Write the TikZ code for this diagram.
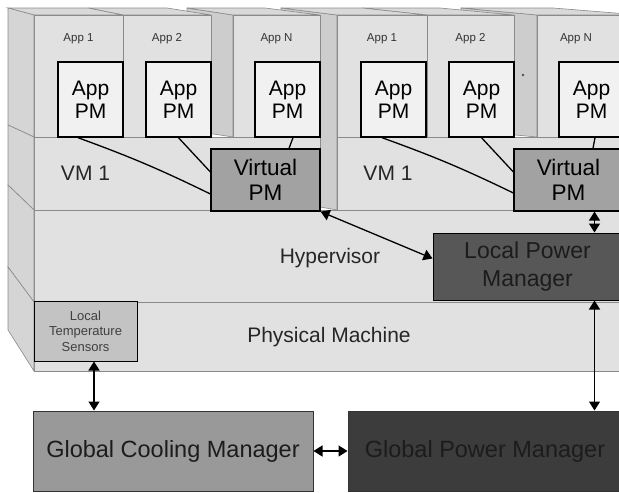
\documentclass[tikz,border=0pt]{standalone}
\usepackage{fontspec}
\setmainfont{Liberation Sans}
\usetikzlibrary{positioning}
\usetikzlibrary{arrows.meta}
\usepackage{xcolor}

\definecolor{facegray}{HTML}{E1E1E1}
\definecolor{sidegray}{HTML}{CDCDCD}
\definecolor{topgray}{HTML}{D9D9D9}
\definecolor{leftgray}{HTML}{D5D5D5}
\definecolor{edgegray}{HTML}{8A8A8A}
\definecolor{pmfill}{HTML}{F1F1F1}
\definecolor{vpmfill}{HTML}{A2A2A2}
\definecolor{lpmfill}{HTML}{575757}
\definecolor{sensorfill}{HTML}{C3C3C3}
\definecolor{gcmfill}{HTML}{999999}
\definecolor{gpmfill}{HTML}{3C3C3C}
\definecolor{darktext}{HTML}{1C1C1C}

\begin{document}
\begin{tikzpicture}[x=1pt,y=-1pt,
faceplate/.style={fill=facegray, draw=edgegray, line width=0.6pt},
sideplate/.style={fill=sidegray, draw=edgegray, line width=0.6pt},
topplate/.style={fill=topgray, draw=edgegray, line width=0.6pt},
leftplate/.style={fill=leftgray, draw=edgegray, line width=0.6pt},
applabel/.style={anchor=base, text=black!80, font=\fontsize{11.5}{13}\selectfont},
layerlabel/.style={anchor=base, text=black!85, font=\fontsize{21}{23}\selectfont},
apppm/.style={rectangle, draw=black, fill=pmfill, line width=1.4pt, minimum width=65pt, minimum height=75pt, inner sep=0pt, align=center, font=\fontsize{21}{23}\selectfont},
virtualpm/.style={rectangle, draw=black, fill=vpmfill, line width=1.2pt, minimum width=109pt, minimum height=62pt, inner sep=0pt, align=center, font=\fontsize{22.5}{25}\selectfont},
localpm/.style={rectangle, draw=black, fill=lpmfill, line width=1pt, minimum width=189pt, minimum height=67pt, inner sep=0pt, align=center, text=darktext, font=\fontsize{23}{28}\selectfont},
sensornode/.style={rectangle, draw=black, fill=sensorfill, line width=1pt, minimum width=103pt, minimum height=60pt, inner sep=0pt, align=center, text=black!75, font=\fontsize{13}{15.5}\selectfont},
coolingnode/.style={rectangle, draw=black!80, fill=gcmfill, line width=1pt, minimum width=280pt, minimum height=80pt, inner sep=0pt, text=darktext, font=\fontsize{23.5}{26}\selectfont},
powernode/.style={rectangle, draw=black!80, fill=gpmfill, line width=1pt, minimum width=274pt, minimum height=80pt, inner sep=0pt, text=darktext, font=\fontsize{23.5}{26}\selectfont},
link/.style={line width=1.3pt},
>={Triangle[length=9pt,width=11pt]}]
\clip (0,0) rectangle (619,493);

% right server
\draw[sideplate] (537,15) -- (461,8) -- (461,130) -- (537,137) -- cycle;
\draw[topplate] (537,15) -- (640,15) -- (553,8) -- (461,8) -- cycle;
\draw[faceplate] (537,15) rectangle (640,137);
\draw[topplate] (427,15) -- (514,15) -- (440,8) -- (362,8) -- cycle;
\draw[faceplate] (427,15) rectangle (514,137);
\draw[sideplate] (337,15) -- (281,8) -- (281,200) -- (337,210) -- cycle;
\draw[topplate] (337,15) -- (427,15) -- (362,8) -- (281,8) -- cycle;
\draw[faceplate] (337,15) rectangle (427,137);
\draw[faceplate] (337,137) rectangle (640,210);

% left server
\draw[sideplate] (233,15) -- (187,8) -- (187,130) -- (233,137) -- cycle;
\draw[topplate] (233,15) -- (320,15) -- (265,8) -- (187,8) -- cycle;
\draw[faceplate] (233,15) rectangle (320,137);
\draw[topplate] (123,15) -- (211,15) -- (167,8) -- (88,8) -- cycle;
\draw[faceplate] (123,15) rectangle (211,137);
\draw[topplate] (34,15) -- (123,15) -- (88,8) -- (8,8) -- cycle;
\draw[faceplate] (34,15) rectangle (123,137);
\draw[faceplate] (34,137) rectangle (320,210);

% hypervisor and physical machine
\draw[faceplate] (34,210) rectangle (640,302);
\draw[faceplate] (34,302) rectangle (640,371);
\draw[leftplate] (8,8) -- (34,15) -- (34,137) -- (8,125) -- cycle;
\draw[leftplate] (8,125) -- (34,137) -- (34,210) -- (8,185) -- cycle;
\draw[leftplate] (8,185) -- (34,210) -- (34,302) -- (8,267) -- cycle;
\draw[leftplate] (8,267) -- (34,302) -- (34,371) -- (8,330) -- cycle;

\node[applabel] (lapp1) at (78.5,41) {App 1};
\node[applabel] (lapp2) at (167,41) {App 2};
\node[applabel] (lappn) at (276.5,41) {App N};
\node[applabel] (rapp1) at (382,41) {App 1};
\node[applabel] (rapp2) at (470.5,41) {App 2};
\node[applabel] (rappn) at (576,41) {App N};
\node[circle, fill=black!70, inner sep=0.9pt] (dots) at (523,75) {};

\node[apppm] (lapm1) at (90.5,99.5) {App\\PM};
\node[apppm] (lapm2) at (178.5,99.5) {App\\PM};
\node[apppm] (lapmn) at (287.5,99.5) {App\\PM};
\node[apppm] (rapm1) at (393.5,99.5) {App\\PM};
\node[apppm] (rapm2) at (481.5,99.5) {App\\PM};
\node[apppm] (rapmn) at (591.5,99.5) {App\\PM};

\node[layerlabel] (lvm) at (85.5,180) {VM 1};
\node[layerlabel] (rvm) at (388,180) {VM 1};
\node[virtualpm] (lvpm) at (265.5,180) {Virtual\\PM};
\node[virtualpm] (rvpm) at (568.5,180) {Virtual\\PM};

\node[layerlabel] (hyper) at (330,263) {Hypervisor};
\node[layerlabel] (physical) at (329,342) {Physical Machine};
\node[localpm] (lpm) at (527.5,266.5) {Local Power\\Manager};
\node[sensornode] (sensors) at (85.5,331) {Local\\Temperature\\Sensors};

\node[coolingnode] (gcm) at (173,451) {Global Cooling Manager};
\node[powernode] (gpm) at (485,451) {Global Power Manager};

\draw[link] ([xshift=-12.5pt]lapm1.south) to[bend left=3] ([yshift=-14pt]lvpm.west);
\draw[link] (lapm2.south) -- ([yshift=8pt]lvpm.west);
\draw[link] ([xshift=5.5pt]lapmn.south) -- ([xshift=23.5pt]lvpm.north);
\draw[link] ([xshift=-11.5pt]rapm1.south) to[bend left=3] ([yshift=-13pt]rvpm.west);
\draw[link] (rapm2.south) -- ([yshift=8pt]rvpm.west);
\draw[link] ([xshift=3.5pt]rapmn.south) -- ([xshift=24.5pt]rvpm.north);

\draw[link,<->] (lvpm.south east) -- ([yshift=8pt]lpm.west);
\draw[link,<->] ([xshift=26pt]rvpm.south) -- ([xshift=26pt]rvpm.south |- lpm.north);
\draw[link,<->] ([xshift=67pt]lpm.south) -- ([xshift=67pt]lpm.south |- gpm.north);
\draw[link,<->] ([xshift=8.5pt]sensors.south) -- ([xshift=8.5pt]sensors.south |- gcm.north);
\draw[link,<->] (gcm) -- (gpm);
\end{tikzpicture}
\end{document}
